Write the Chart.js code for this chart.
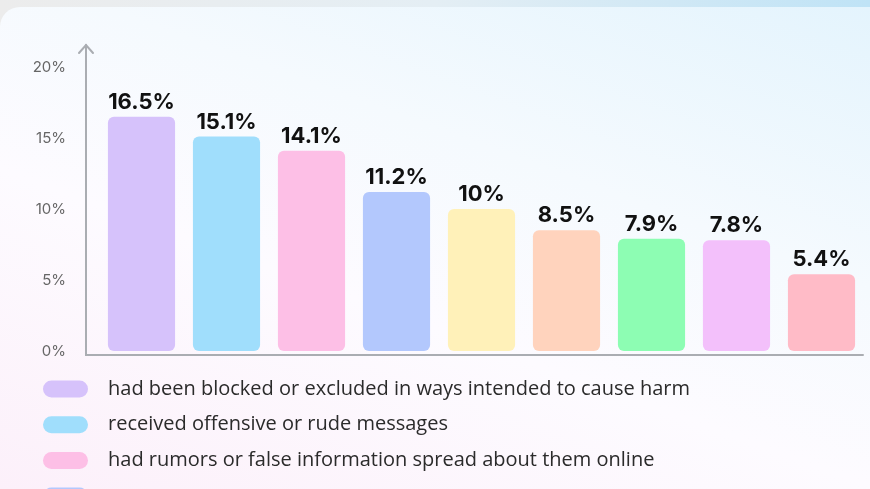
<!DOCTYPE html>
<html>
<head>
<meta charset="utf-8">
<script src="https://cdn.jsdelivr.net/npm/chart.js@4/dist/chart.umd.min.js"></script>
<style>
  html, body { margin: 0; padding: 0; width: 870px; height: 489px; overflow: hidden; }
  body { background: linear-gradient(90deg, #ececec 0%, #e4eef4 50%, #bfe3f6 100%); position: relative; }
  .card {
    position: absolute; left: 0; top: 7px; width: 870px; height: 482px;
    border-top-left-radius: 20px;
    background: linear-gradient(200deg, #e4f4fd 0%, #f5fafe 35%, #fdfbff 60%, #fcf0fa 100%);
  }
  #chart { position: absolute; left: 0; top: 0; }
</style>
</head>
<body>
<div class="card"></div>
<canvas id="chart" width="870" height="489"></canvas>
<script>
// categories (only the first three are readable in the reference, the rest are cut off)
var categories = [
  "had been blocked or excluded in ways intended to cause harm",
  "received offensive or rude messages",
  "had rumors or false information spread about them online",
  "", "", "", "", "", ""
];
var values = [16.5, 15.1, 14.1, 11.2, 10, 8.5, 7.9, 7.8, 5.4];
var barColors = ["#d6c2fb", "#a0defc", "#fdbfe6", "#b3c8fd", "#fff1b9", "#ffd3bd", "#8dfdb3", "#f3c0fb", "#ffbbc7"];
var yTicks = [0, 5, 10, 15, 20];

var axisPlugin = {
  id: 'axisArrow',
  beforeDatasetsDraw: function(chart) {
    var ctx = chart.ctx, area = chart.chartArea;
    var x0 = area.left - 13, yb = area.bottom + 4, yt = 45;
    ctx.save();
    ctx.strokeStyle = '#aaadb2';
    ctx.lineWidth = 2;
    ctx.lineCap = 'round';
    ctx.beginPath();
    ctx.moveTo(x0, yt);
    ctx.lineTo(x0, yb);
    ctx.lineTo(area.right - 1, yb);
    ctx.stroke();
    ctx.beginPath();
    ctx.moveTo(x0 - 7, yt + 8);
    ctx.lineTo(x0, yt);
    ctx.lineTo(x0 + 7, yt + 8);
    ctx.stroke();
    ctx.restore();
  },
  afterDatasetsDraw: function(chart) {
    var ctx = chart.ctx;
    var meta = chart.getDatasetMeta(0);
    ctx.save();
    ctx.fillStyle = '#111111';
    ctx.font = 'bold 22px Inter, "Open Sans", sans-serif';
    ctx.textAlign = 'center';
    ctx.textBaseline = 'alphabetic';
    meta.data.forEach(function(bar, i) {
      ctx.fillText(values[i] + '%', bar.x, bar.y - 8);
    });
    // legend rows
    ctx.font = '20px "Open Sans", sans-serif';
    ctx.textAlign = 'left';
    ctx.textBaseline = 'middle';
    chart.data.labels.forEach(function(lbl, i) {
      var cy = 389 + i * 35.7;
      ctx.fillStyle = barColors[i];
      ctx.beginPath();
      ctx.roundRect(43, cy - 8.5, 45, 17, 8.5);
      ctx.fill();
      ctx.fillStyle = '#2b2b2b';
      ctx.fillText(lbl, 108, cy);
    });
    ctx.restore();
  }
};

new Chart(document.getElementById('chart').getContext('2d'), {
  type: 'bar',
  data: {
    labels: categories,
    datasets: [{
      data: values,
      backgroundColor: barColors,
      borderRadius: 6,
      borderSkipped: false,
      categoryPercentage: 1,
      barPercentage: 0.79
    }]
  },
  options: {
    responsive: false,
    animation: false,
    layout: { padding: { top: 67, right: 6, bottom: 138, left: 0 } },
    plugins: { legend: { display: false }, tooltip: { enabled: false } },
    scales: {
      x: { display: false },
      y: {
        min: 0, max: 20,
        afterFit: function(scale) { scale.width = 99; },
        afterBuildTicks: function(scale) {
          scale.ticks = yTicks.map(function(v) { return { value: v }; });
        },
        grid: { display: false, drawTicks: false },
        border: { display: false },
        ticks: {
          padding: 33,
          color: '#666666',
          font: { family: 'Inter', size: 15 },
          callback: function(v) { return v + '%'; }
        }
      }
    }
  },
  plugins: [axisPlugin]
});
</script>
</body>
</html>
